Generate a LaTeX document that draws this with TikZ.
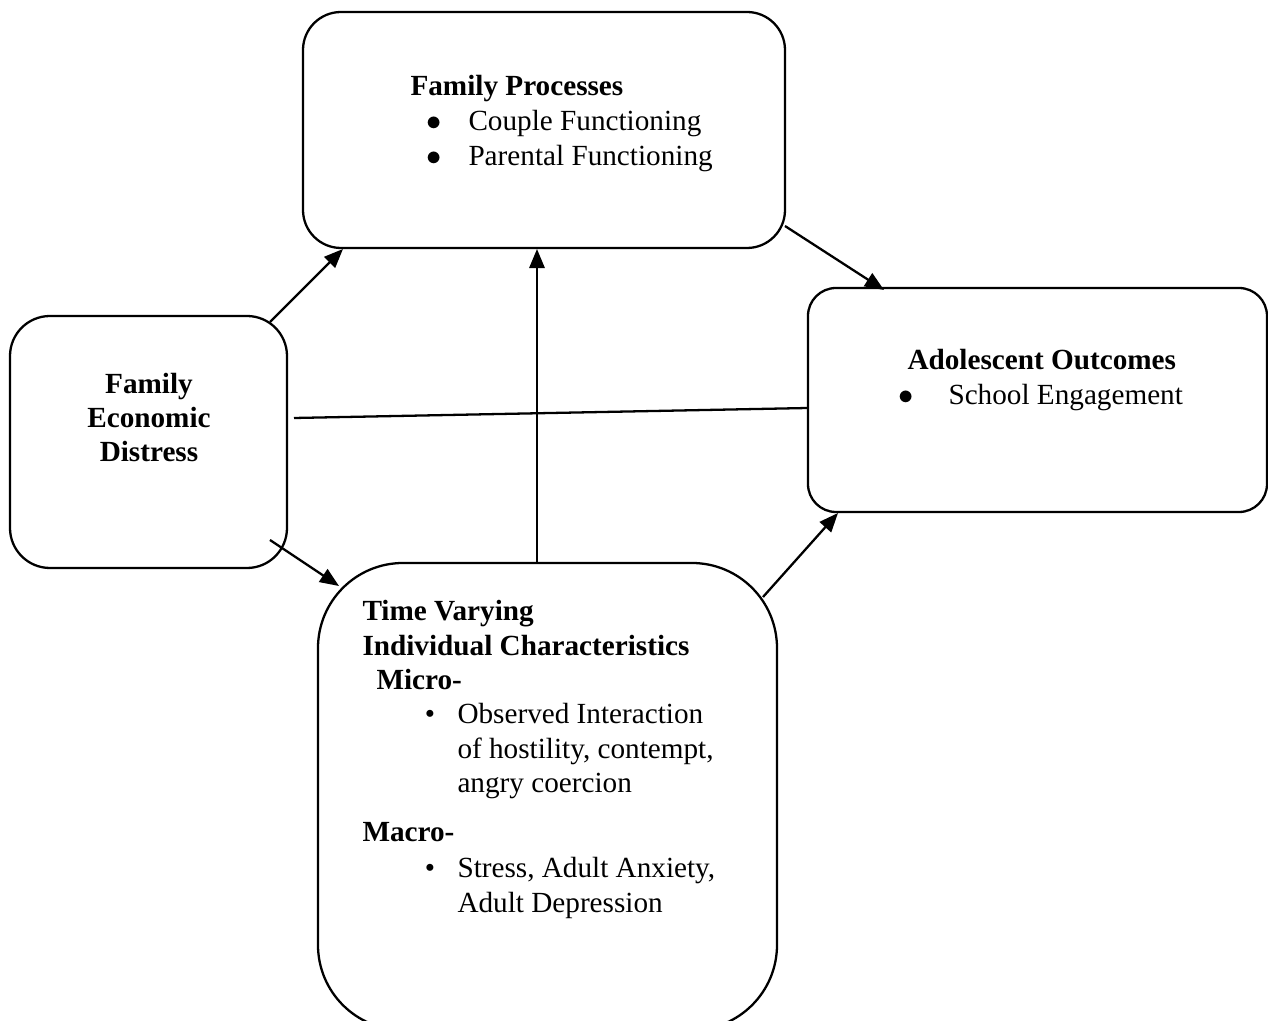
\documentclass[tikz,border=0pt]{standalone}
\usepackage{fontspec}
\setmainfont{Liberation Serif}
\usetikzlibrary{arrows.meta,calc}
\begin{document}
\begin{tikzpicture}[x=0.3937pt,y=-0.3937pt,
  box/.style={draw, line width=0.9pt, inner sep=0pt, outer sep=0pt},
  txt/.style={anchor=base west, inner sep=0pt, font=\fontsize{11.5}{13.8}\selectfont},
  btxt/.style={anchor=base west, inner sep=0pt, font=\fontsize{11.5}{13.8}\selectfont\bfseries},
  ctxt/.style={anchor=base, inner sep=0pt, font=\fontsize{11.5}{13.8}\selectfont\bfseries},
  bul/.style={anchor=base, inner sep=0pt, font=\fontsize{11.5}{13.8}\selectfont},
  sbul/.style={anchor=base, inner sep=0pt, font=\fontsize{11.5}{13.8}\selectfont},
  arr/.style={line width=0.9pt, -{Triangle[length=7.5pt,width=6pt]}},
  ln/.style={line width=0.9pt}]
\useasboundingbox (0,0) rectangle (1268,1021);
% boxes
\node[box, rounded corners=38*0.3937pt, minimum width=482*0.3937pt, minimum height=236*0.3937pt] (fp) at (544,130) {};
\node[box, rounded corners=40*0.3937pt, minimum width=277*0.3937pt, minimum height=252*0.3937pt] (fed) at (148.5,442) {};
\node[box, rounded corners=28*0.3937pt, minimum width=459*0.3937pt, minimum height=224*0.3937pt] (ao) at (1037.5,400) {};
\node[box, rounded corners=85*0.3937pt, minimum width=459*0.3937pt, minimum height=467*0.3937pt] (tv) at (547.5,796.5) {};
% texts: family processes
\node[btxt] (fpt) at (410,96) {Family Processes};
\node[bul] (fpb1) at (434,131) {$\bullet$};
\node[txt] (fp1) at (468,131) {Couple Functioning};
\node[bul] (fpb2) at (434,166) {$\bullet$};
\node[txt] (fp2) at (468,166) {Parental Functioning};
% family economic distress
\node[ctxt] (fed1) at (149,394) {Family};
\node[ctxt] (fed2) at (149,428) {Economic};
\node[ctxt] (fed3) at (149,462) {Distress};
% adolescent outcomes
\node[btxt] (aot) at (907,370) {Adolescent Outcomes};
\node[bul] (aob) at (906,405) {$\bullet$};
\node[txt] (ao1) at (948,405) {School Engagement};
% time varying
\node[btxt] (tv1) at (362,621) {Time Varying};
\node[btxt] (tv2) at (362,656) {Individual Characteristics};
\node[btxt] (tv3) at (376,690) {Micro-};
\node[sbul] (tvb1) at (430,724) {•};
\node[txt] (tv4) at (457,724) {Observed Interaction};
\node[txt] (tv5) at (457,759) {of hostility, contempt,};
\node[txt] (tv6) at (457,793) {angry coercion};
\node[btxt] (tv7) at (362,842) {Macro-};
\node[sbul] (tvb2) at (430,878) {•};
\node[txt] (tv8) at (457,878) {Stress, Adult Anxiety,};
\node[txt] (tv9) at (457,913) {Adult Depression};
% connectors
\draw[arr] ($(fed.north east)+(-17,6)$) -- ($(fp.south west)+(40,1)$);
\draw[arr] ($(fp.south east)+(0,-22)$) -- ($(ao.north west)+(76,2)$);
\draw[arr] ($(fed.south east)+(-17,-28)$) -- ($(tv.north west)+(21,23)$);
\draw[arr] ($(tv.north)+(-10.5,0)$) -- ($(fp.south)+(-7,1)$);
\draw[arr] ($(tv.north east)+(-14,34)$) -- ($(ao.south west)+(30,1)$);
\draw[ln] ($(fed.east)+(7,-24)$) -- ($(ao.west)+(0,8)$);
\end{tikzpicture}
\end{document}
